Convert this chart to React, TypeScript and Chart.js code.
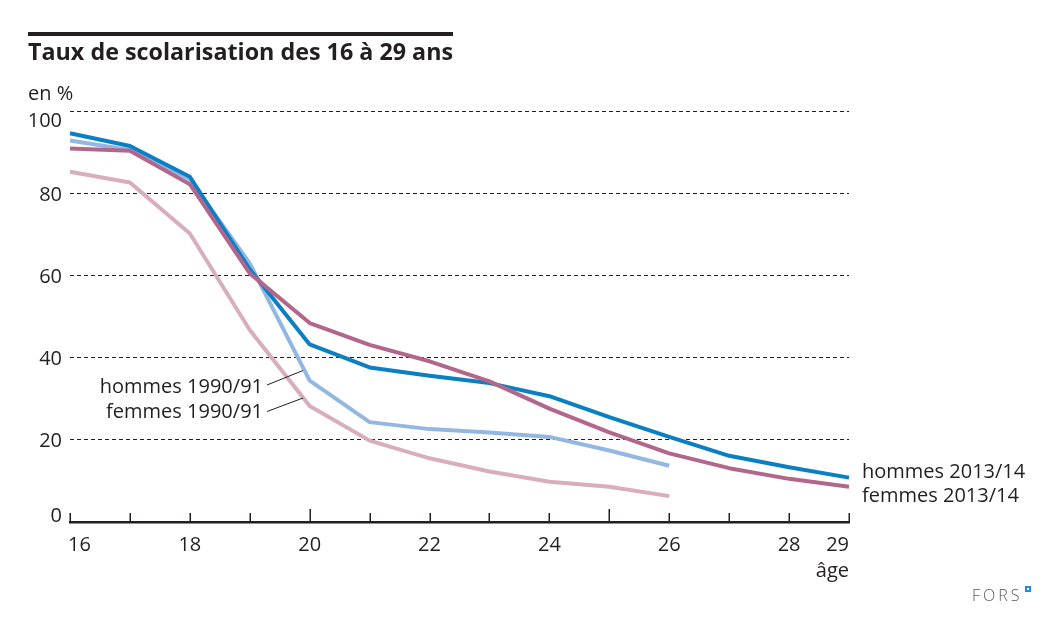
import React, { useEffect, useRef } from "react";
import { Chart, registerables } from "chart.js";

Chart.register(...registerables);

const ages2013 = [16, 17, 18, 19, 20, 21, 22, 23, 24, 25, 26, 27, 28, 29];
const hommes2013 = [94.6, 91.5, 84.0, 61.5, 43.2, 37.6, 35.6, 33.8, 30.6, 25.5, 20.7, 16.1, 13.3, 10.8];
const femmes2013 = [90.9, 90.3, 82.2, 60.5, 48.4, 43.1, 39.1, 34.2, 27.6, 21.8, 16.7, 13.1, 10.5, 8.6];

const ages1990 = [16, 17, 18, 19, 20, 21, 22, 23, 24, 25, 26];
const hommes1990 = [92.8, 90.5, 83.4, 62.9, 34.4, 24.3, 22.6, 21.8, 20.7, 17.4, 13.7];
const femmes1990 = [85.2, 82.6, 70.2, 46.7, 28.2, 19.8, 15.5, 12.3, 9.8, 8.6, 6.3];

const yTicks = [0, 20, 40, 60, 80, 100];
const xLabels = [16, 18, 20, 22, 24, 26, 28, 29];
const xTickMarks = [16, 17, 18, 19, 20, 21, 22, 23, 24, 25, 26, 27, 28, 29];
const xMajorTicks = [20, 25];

const TITLE = "Taux de scolarisation des 16 à 29 ans";
const UNIT = "en %";
const AXIS_X = "âge";
const LBL_H90 = "hommes 1990/91";
const LBL_F90 = "femmes 1990/91";
const LBL_H13 = "hommes 2013/14";
const LBL_F13 = "femmes 2013/14";
const SOURCE = "FORS";

const C_DARK = "#231f20";
const C_H13 = "#0a7fc3";
const C_F13 = "#b2668b";
const C_H90 = "#94b7e1";
const C_F90 = "#d8adbe";
const FONT = "'Open Sans', 'Noto Sans', sans-serif";

const toPts = (xs: number[], ys: number[]) => xs.map((x, i) => ({ x, y: ys[i] }));

const decor = {
  id: "decor",
  afterDraw(chart: any) {
    const ctx = chart.ctx as CanvasRenderingContext2D;
    const xs = chart.scales.x;
    const ys = chart.scales.y;
    const area = chart.chartArea;
    ctx.save();
    // title rule
    ctx.fillStyle = C_DARK;
    ctx.fillRect(28, 32, 425, 4);
    // title
    ctx.font = `bold 23.3px ${FONT}`;
    ctx.textAlign = "left";
    ctx.textBaseline = "alphabetic";
    ctx.fillText(TITLE, 28, 59.5);
    // unit
    ctx.font = `20px ${FONT}`;
    ctx.fillText(UNIT, 28, 99.5);
    // y labels
    ctx.textAlign = "right";
    yTicks.forEach((v) => {
      let y = ys.getPixelForValue(v) + 7.3;
      if (v === 100) y = ys.getPixelForValue(v) + 16;
      if (v === 0) y = ys.getPixelForValue(v);
      ctx.fillText(String(v), 62, y);
    });
    // x tick marks (upward)
    ctx.strokeStyle = C_DARK;
    ctx.lineWidth = 1.5;
    xTickMarks.forEach((v) => {
      const x = Math.round(xs.getPixelForValue(v)) + 0.25;
      const len = xMajorTicks.includes(v) ? 13 : 9;
      ctx.beginPath();
      ctx.moveTo(x, area.bottom);
      ctx.lineTo(x, area.bottom - len);
      ctx.stroke();
    });
    // x labels
    xLabels.forEach((v, i) => {
      const x = xs.getPixelForValue(v);
      if (i === 0) {
        ctx.textAlign = "left";
        ctx.fillText(String(v), x - 2, 551);
      } else if (i === xLabels.length - 1) {
        ctx.textAlign = "right";
        ctx.fillText(String(v), x, 551);
      } else {
        ctx.textAlign = "center";
        ctx.fillText(String(v), x, 551);
      }
    });
    ctx.textAlign = "right";
    ctx.fillText(AXIS_X, area.right, 577);
    // series labels 1990/91
    ctx.font = `20px ${FONT}`;
    ctx.fillText(LBL_H90, 263, 393);
    ctx.fillText(LBL_F90, 263, 418);
    ctx.lineWidth = 1;
    ctx.beginPath();
    ctx.moveTo(267, 385);
    ctx.lineTo(303, 370.5);
    ctx.moveTo(267, 411.5);
    ctx.lineTo(303, 398);
    ctx.stroke();
    // series labels 2013/14
    ctx.textAlign = "left";
    ctx.fillText(LBL_H13, 862, 478);
    ctx.fillText(LBL_F13, 862, 502);
    // source
    ctx.fillStyle = "#5a5a5a";
    ctx.font = `300 16px ${FONT}`;
    (ctx as any).letterSpacing = "3px";
    ctx.textAlign = "left";
    ctx.fillText(SOURCE, 972, 601);
    (ctx as any).letterSpacing = "0px";
    ctx.fillStyle = "#1f8fd6";
    ctx.fillRect(1025, 586, 6, 6);
    ctx.fillStyle = "#ffffff";
    ctx.fillRect(1027, 588, 2, 2);
    ctx.restore();
  },
};

export default function App() {
  const ref = useRef<HTMLCanvasElement | null>(null);
  useEffect(() => {
    if (!ref.current) return;
    const base = {
      pointRadius: 0,
      borderWidth: 4,
      fill: false,
      tension: 0,
      clip: false as any,
      borderJoinStyle: "round" as const,
      borderCapStyle: "butt" as const,
    };
    const chart = new Chart(ref.current, {
      type: "line",
      data: {
        datasets: [
          { ...base, label: LBL_F13, data: toPts(ages2013, femmes2013), borderColor: C_F13, order: 0 },
          { ...base, label: LBL_H13, data: toPts(ages2013, hommes2013), borderColor: C_H13, order: 1 },
          { ...base, label: LBL_H90, data: toPts(ages1990, hommes1990), borderColor: C_H90, order: 2 },
          { ...base, label: LBL_F90, data: toPts(ages1990, femmes1990), borderColor: C_F90, order: 3 },
        ],
      },
      options: {
        animation: false,
        responsive: false,
        maintainAspectRatio: false,
        events: [],
        layout: { padding: { top: 111, right: 200, left: 0, bottom: 0 } },
        plugins: { legend: { display: false }, tooltip: { enabled: false }, title: { display: false } },
        scales: {
          x: {
            type: "linear",
            min: 16,
            max: 29,
            afterFit: (s: any) => {
              s.height = 97;
            },
            ticks: { display: false, stepSize: 1 },
            grid: { display: false, drawTicks: false },
            border: { display: true, color: C_DARK, width: 2.5 },
          },
          y: {
            min: 0,
            max: 100,
            afterFit: (s: any) => {
              s.width = 70;
            },
            ticks: { display: false, stepSize: 20 },
            grid: {
              drawTicks: false,
              lineWidth: 1,
              color: (c: any) => (c.tick && c.tick.value === 0 ? "rgba(0,0,0,0)" : C_DARK),
            },
            border: { display: false, dash: [4, 3] },
          },
        },
      },
      plugins: [decor],
    });
    return () => chart.destroy();
  }, []);
  return (
    <div style={{ position: "fixed", left: 0, top: 0, width: 1049, height: 619, background: "#fff" }}>
      <canvas ref={ref} width={1049} height={619} style={{ width: 1049, height: 619, display: "block" }} />
    </div>
  );
}
